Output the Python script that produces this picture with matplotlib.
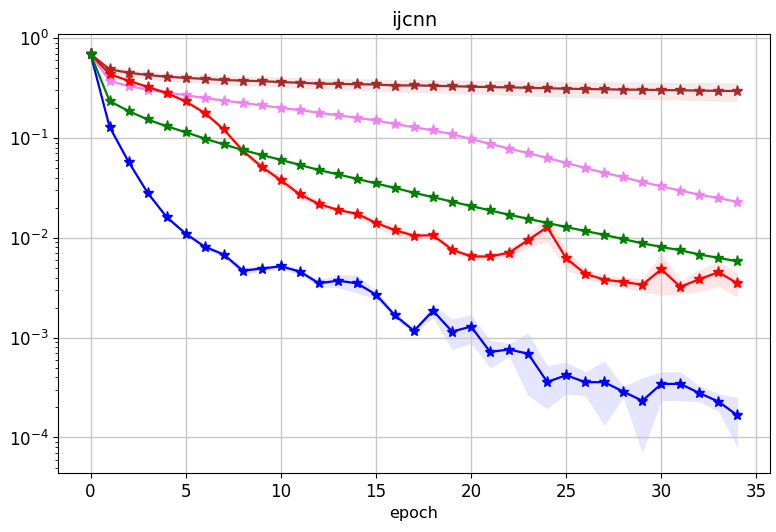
import matplotlib
matplotlib.use("Agg")
import matplotlib.pyplot as plt
import numpy as np

epochs = list(range(35))

# mean loss per method
brown_mean = [0.693, 0.486, 0.45, 0.427, 0.41, 0.40, 0.39, 0.38, 0.375, 0.37, 0.363,
              0.357, 0.35, 0.348, 0.345, 0.343, 0.335, 0.336, 0.333, 0.33, 0.326,
              0.323, 0.321, 0.318, 0.315, 0.311, 0.309, 0.307, 0.305, 0.304, 0.302,
              0.30, 0.298, 0.296, 0.295]
violet_mean = [0.693, 0.372, 0.331, 0.305, 0.285, 0.268, 0.251, 0.237, 0.224, 0.212, 0.2,
               0.19, 0.179, 0.169, 0.159, 0.15, 0.138, 0.128, 0.119, 0.109, 0.0977,
               0.0871, 0.0783, 0.0705, 0.0631, 0.0562, 0.0501, 0.0447, 0.0403, 0.0362,
               0.0328, 0.0297, 0.027, 0.025, 0.0229]
green_mean = [0.693, 0.234, 0.186, 0.153, 0.131, 0.114, 0.0986, 0.0861, 0.0757, 0.0675,
              0.0603, 0.0537, 0.0477, 0.0432, 0.0389, 0.035, 0.0316, 0.0282, 0.0255,
              0.023, 0.0208, 0.0188, 0.017, 0.0155, 0.0141, 0.0128, 0.0117, 0.0107,
              0.0097, 0.0088, 0.0081, 0.0075, 0.0068, 0.0063, 0.0058]
red_mean = [0.693, 0.434, 0.375, 0.324, 0.282, 0.232, 0.178, 0.122, 0.0745, 0.0513,
            0.0377, 0.0272, 0.0218, 0.019, 0.0174, 0.0141, 0.0119, 0.0105, 0.0106,
            0.0076, 0.0065, 0.0065, 0.0071, 0.0095, 0.0128, 0.00622, 0.00436, 0.00381,
            0.00361, 0.00339, 0.00483, 0.00323, 0.00385, 0.00452, 0.0035]
blue_mean = [0.693, 0.129, 0.0575, 0.0282, 0.0161, 0.011, 0.00813, 0.0068, 0.00468,
             0.00492, 0.00518, 0.00459, 0.0035, 0.00372, 0.0035, 0.0027, 0.00167,
             0.00117, 0.00186, 0.00115, 0.00129, 0.00072, 0.00076, 0.00069, 0.00036,
             0.00042, 0.000358, 0.000358, 0.000288, 0.000233, 0.000344, 0.000344,
             0.000278, 0.000229, 0.000166]

# spread of the shaded band, relative to the mean
brown_spread = [0, 0.08, 0.09, 0.09, 0.1, 0.1, 0.1, 0.11, 0.11, 0.12, 0.12, 0.12, 0.13,
                0.13, 0.13, 0.14, 0.14, 0.15, 0.15, 0.16, 0.16, 0.16, 0.17, 0.17, 0.18,
                0.18, 0.18, 0.19, 0.19, 0.2, 0.2, 0.2, 0.21, 0.21, 0.21]
violet_spread = [0, 0.02, 0.02, 0.02, 0.02, 0.02, 0.02, 0.02, 0.02, 0.02, 0.02, 0.02,
                 0.02, 0.02, 0.02, 0.02, 0.02, 0.02, 0.02, 0.02, 0.02, 0.02, 0.02, 0.02,
                 0.02, 0.02, 0.02, 0.02, 0.02, 0.02, 0.02, 0.02, 0.02, 0.02, 0.02]
green_spread = [0, 0.02, 0.02, 0.02, 0.02, 0.02, 0.02, 0.02, 0.02, 0.02, 0.02, 0.02,
                0.02, 0.02, 0.02, 0.02, 0.02, 0.02, 0.02, 0.02, 0.02, 0.02, 0.02, 0.02,
                0.02, 0.02, 0.02, 0.02, 0.02, 0.02, 0.02, 0.02, 0.02, 0.02, 0.02]
red_spread = [0, 0.04, 0.04, 0.04, 0.05, 0.05, 0.05, 0.05, 0.06, 0.1, 0.1, 0.1, 0.08,
              0.06, 0.06, 0.12, 0.12, 0.07, 0.07, 0.08, 0.07, 0.07, 0.1, 0.16, 0.28,
              0.22, 0.11, 0.1, 0.12, 0.15, 0.45, 0.15, 0.25, 0.28, 0.27]
blue_spread = [0, 0.04, 0.04, 0.04, 0.04, 0.05, 0.05, 0.06, 0.08, 0.06, 0.06, 0.07,
               0.08, 0.15, 0.2, 0.1, 0.07, 0.07, 0.15, 0.34, 0.32, 0.31, 0.15, 0.62,
               0.46, 0.35, 0.27, 0.63, 0.13, 0.7, 0.32, 0.32, 0.18, 0.2, 0.52]

series = [
    (brown_mean, brown_spread, "brown"),
    (violet_mean, violet_spread, "violet"),
    (blue_mean, blue_spread, "blue"),
    (red_mean, red_spread, "red"),
    (green_mean, green_spread, "green"),
]

fig, ax = plt.subplots(figsize=(7.76, 5.32), dpi=100)
fig.subplots_adjust(left=0.075, right=0.992, bottom=0.111, top=0.936)

x = np.array(epochs)
for mean, spread, color in series:
    m = np.array(mean)
    s = m * np.array(spread)
    ax.fill_between(x, m - s, m + s, color=color, alpha=0.1, linewidth=0)
    ax.plot(x, m, color=color, marker="*", markersize=8, linewidth=1.6)

ax.set_yscale("log")
ax.set_title("ijcnn", fontsize=14)
ax.set_xlabel("epoch", fontsize=11.5)
ax.tick_params(labelsize=12)
ax.grid(True, which="major", linewidth=1.0, color="#c8c8c8")

fig.savefig("out.png", dpi=100)
